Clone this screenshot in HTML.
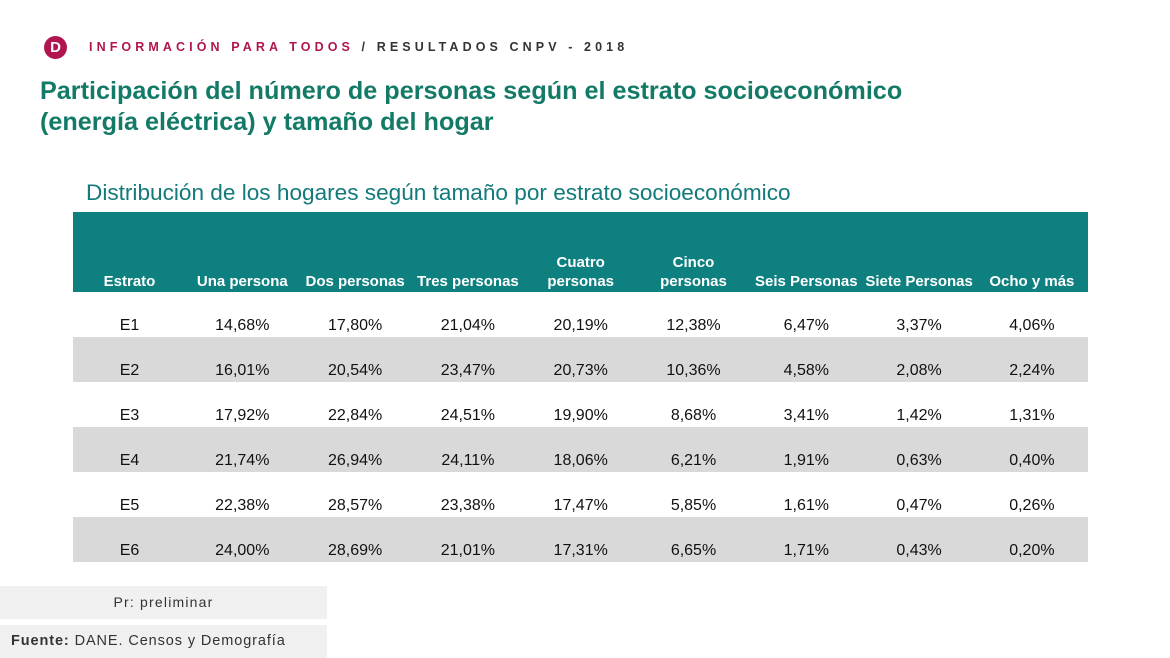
<!DOCTYPE html><html><head><meta charset="utf-8"><style>
body{margin:0;width:1170px;height:658px;background:#fff;position:relative;overflow:hidden;font-family:"Liberation Sans",sans-serif}
.a{position:absolute}
.h{position:absolute;top:212px;height:80px;width:113px;color:#fff;font-weight:bold;font-size:15px;text-align:center;display:flex;align-items:flex-end;justify-content:center;padding-bottom:1px;box-sizing:border-box;line-height:19px}
.r{position:absolute;left:73px;width:1015px;height:45px}
.c{position:absolute;width:113px;text-align:center;font-size:16px;color:#111}
</style></head><body>
<div class="a" style="left:44px;top:36px;width:23px;height:23px;border-radius:50%;background:#b01550;color:#fff;font-weight:bold;font-size:15px;line-height:23px;text-align:center">D</div>
<div class="a" style="left:89px;top:40px;font-size:12.5px;font-weight:bold;letter-spacing:4.1px;color:#b01550;white-space:nowrap">INFORMACIÓN PARA TODOS <span style="color:#333">/ RESULTADOS CNPV - 2018</span></div>
<div class="a" style="left:40px;top:76px;font-size:25.2px;font-weight:bold;color:#127a66;line-height:31px;white-space:nowrap">Participación del número de personas según el estrato socioeconómico<br>(energía eléctrica) y tamaño del hogar</div>
<div class="a" style="left:86px;top:180px;font-size:22.6px;color:#127a7a;white-space:nowrap">Distribución de los hogares según tamaño por estrato socioeconómico</div>
<div class="a" style="left:73px;top:212px;width:1015px;height:80px;background:#0f8080"></div>
<div class="r" style="top:337px;background:#d9d9d9"></div>
<div class="r" style="top:427px;background:#d9d9d9"></div>
<div class="r" style="top:517px;background:#d9d9d9"></div>
<div id="t"></div>
<div class="a" style="left:0;top:586px;width:327px;height:33px;background:#f0f0f0;font-size:14px;color:#333;letter-spacing:1.2px;text-align:center;line-height:33px">Pr: preliminar</div>
<div class="a" style="left:0;top:625px;width:327px;height:33px;background:#f0f0f0;font-size:14.5px;color:#333;letter-spacing:0.9px;line-height:33px;padding-left:11px;box-sizing:border-box;white-space:nowrap"><b>Fuente:</b> DANE. Censos y Demografía</div>
<script>
var H=["Estrato","Una persona","Dos personas","Tres personas","Cuatro<br>personas","Cinco<br>personas","Seis Personas","Siete Personas","Ocho y más"];
var D=[["E1","14,68%","17,80%","21,04%","20,19%","12,38%","6,47%","3,37%","4,06%"],
["E2","16,01%","20,54%","23,47%","20,73%","10,36%","4,58%","2,08%","2,24%"],
["E3","17,92%","22,84%","24,51%","19,90%","8,68%","3,41%","1,42%","1,31%"],
["E4","21,74%","26,94%","24,11%","18,06%","6,21%","1,91%","0,63%","0,40%"],
["E5","22,38%","28,57%","23,38%","17,47%","5,85%","1,61%","0,47%","0,26%"],
["E6","24,00%","28,69%","21,01%","17,31%","6,65%","1,71%","0,43%","0,20%"]];
var s="";
for(var i=0;i<9;i++){s+='<div class="h" style="left:'+(73+i*112.8)+'px">'+H[i]+'</div>';}
for(var r=0;r<6;r++)for(var i=0;i<9;i++){s+='<div class="c" style="left:'+(73+i*112.8)+'px;top:'+(317+r*45)+'px">'+D[r][i]+'</div>';}
document.getElementById("t").innerHTML=s;
</script>
</body></html>
